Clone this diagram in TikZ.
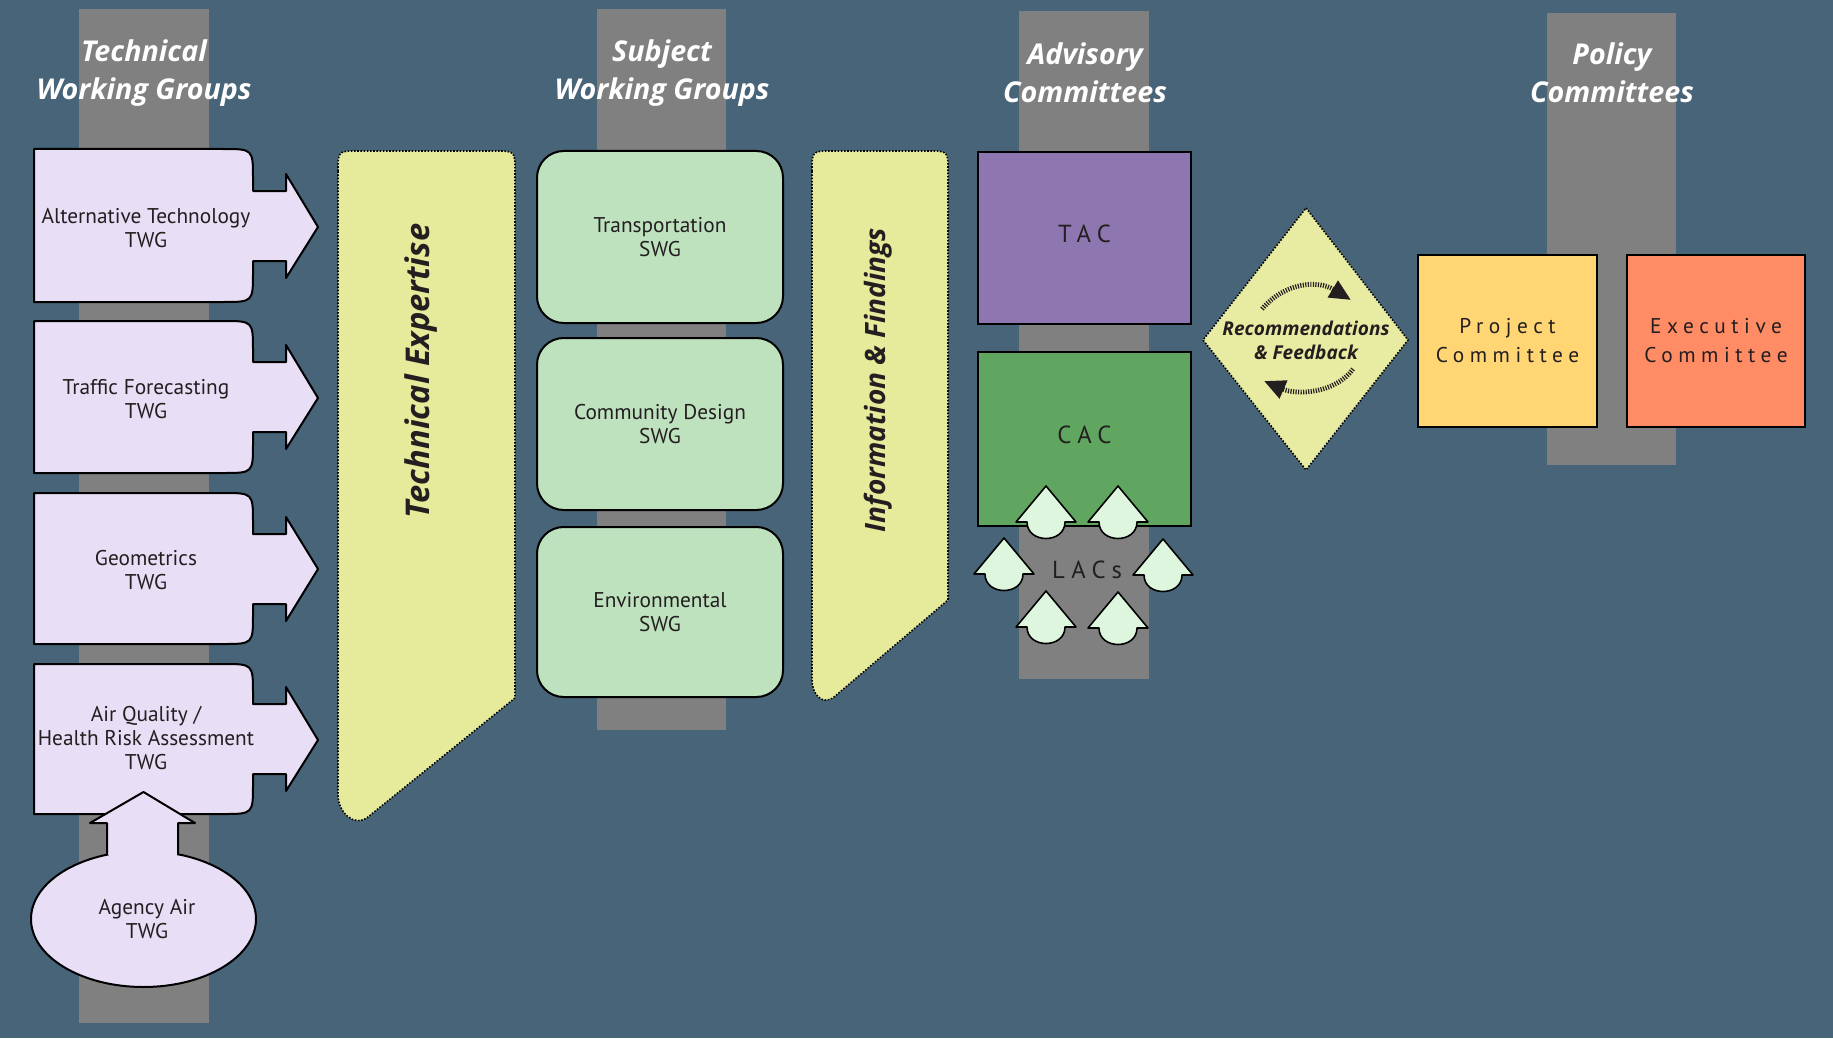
\documentclass[tikz,border=0pt]{standalone}
\usepackage{fontspec}
\setmainfont{PT Sans}
\newfontfamily\spacedfont[LetterSpace=26]{PT Sans}
\newfontfamily\headfont{Open Sans}
\usetikzlibrary{arrows.meta}

\definecolor{bgslate}{RGB}{72,100,120}
\definecolor{colgray}{RGB}{128,128,128}
\definecolor{twgfill}{RGB}{232,222,245}
\definecolor{bannerfill}{RGB}{230,234,155}
\definecolor{swgfill}{RGB}{190,226,190}
\definecolor{tacfill}{RGB}{142,118,176}
\definecolor{cacfill}{RGB}{96,166,96}
\definecolor{lacfill}{RGB}{222,245,222}
\definecolor{diamondfill}{RGB}{232,236,162}
\definecolor{projfill}{RGB}{255,214,115}
\definecolor{execfill}{RGB}{255,140,100}
\definecolor{textdark}{RGB}{35,31,32}

\tikzset{
  heading/.style={text=white, align=center, inner sep=0pt, font=\headfont\fontsize{21.5}{28.5}\selectfont\bfseries\itshape},
  twgbox/.style={fill=twgfill, draw=black, line width=1.5pt, line join=round},
  grouptext/.style={align=center, text=textdark, inner sep=0pt, font=\fontsize{16}{18}\selectfont},
  banner/.style={fill=bannerfill, draw=black, line width=1.2pt, dash pattern=on 1.2pt off 1.2pt},
  bannertext/.style={rotate=90, text=textdark, inner sep=0pt, font=\headfont\bfseries\itshape},
  swgbox/.style={fill=swgfill, draw=black, line width=1.5pt, rounded corners=20pt, minimum width=184.5pt, minimum height=129pt, align=center, inner sep=0pt, text=textdark, font=\fontsize{16}{18}\selectfont},
  committee/.style={draw=black, line width=1.5pt, minimum height=129pt, align=center, inner sep=0pt, text=textdark},
  lac/.style={fill=lacfill, draw=black, line width=1.2pt, line join=round},
  feedback/.style={fill=diamondfill, draw=black, line width=1.2pt, dash pattern=on 1.2pt off 1.2pt},
  cycleline/.style={draw=textdark, line width=3.6pt, dash pattern=on 0.9pt off 1pt, -{Triangle[length=16pt,width=14pt]}}
}

\begin{document}
\begin{tikzpicture}[x=0.75pt,y=0.75pt,yscale=-1,xscale=1]
    \useasboundingbox (0,0) rectangle (1833,1038);
    \fill[bgslate] (0,0) rectangle (1833,1038);

    %Columns
    \fill[colgray] (79,9) rectangle (209,1023);
    \fill[colgray] (597,9) rectangle (726,730);
    \fill[colgray] (1019,11) rectangle (1149,679);
    \fill[colgray] (1547,13) rectangle (1676,465);

    %Column headings
    \node[heading] (twghead) at (144,73) {Technical\\Working Groups};
    \node[heading] (swghead) at (662,73) {Subject\\Working Groups};
    \node[heading] (advhead) at (1085,73) {Advisory\\Committees};
    \node[heading] (polhead) at (1612,73) {Policy\\Committees};

    %TWG arrow boxes
    \draw[twgbox] (34,149) -- (223,149) .. controls (253,149) .. (253,179) -- (253,191) -- (286,191) -- (286,174) -- (318,227) -- (286,278) -- (286,261) -- (253,261) -- (253,272) .. controls (253,302) .. (223,302) -- (34,302) -- cycle;
    \draw[twgbox] (34,321) -- (223,321) .. controls (253,321) .. (253,351) -- (253,362) -- (286,362) -- (286,345) -- (318,398) -- (286,449) -- (286,432) -- (253,432) -- (253,443) .. controls (253,473) .. (223,473) -- (34,473) -- cycle;
    \draw[twgbox] (34,493) -- (223,493) .. controls (253,493) .. (253,523) -- (253,534) -- (286,534) -- (286,517) -- (318,569) -- (286,621) -- (286,604) -- (253,604) -- (253,614) .. controls (253,644) .. (223,644) -- (34,644) -- cycle;
    \draw[twgbox] (34,664) -- (223,664) .. controls (253,664) .. (253,694) -- (253,704) -- (286,704) -- (286,687) -- (318,740) -- (286,791) -- (286,774) -- (253,774) -- (253,784) .. controls (253,814) .. (223,814) -- (34,814) -- cycle;
    \node[grouptext] (alttech) at (146,228) {Alternative Technology\\TWG};
    \node[grouptext] (traffic) at (146,399) {Traffic Forecasting\\TWG};
    \node[grouptext] (geometrics) at (146,570) {Geometrics\\TWG};
    \node[grouptext] (airquality) at (146,738) {Air Quality /\\Health Risk Assessment\\TWG};

    %Agency Air ellipse with up arrow
    \draw[twgbox] (143.5,919) ellipse [x radius=112.5, y radius=68];
    \draw[twgbox] (107,855) -- (107,823) -- (90,823) -- (143.5,792) -- (195,823) -- (178,823) -- (178,855);
    \fill[twgfill] (108.5,845) rectangle (176.5,861);
    \node[grouptext] (agencyair) at (147,919) {Agency Air\\TWG};

    %Technical Expertise banner
    \draw[banner] (338,171) .. controls (338,151) .. (358,151) -- (495,151) .. controls (515,151) .. (515,171) -- (515,698) -- (368,817) .. controls (354,828) and (338,812) .. (338,795) -- cycle;
    \node[bannertext, font=\headfont\fontsize{24.5}{28}\selectfont\bfseries\itshape] (techexpertise) at (421,371) {Technical Expertise};

    %Subject working groups
    \node[swgbox] (transportation) at (660,237) {Transportation\\SWG};
    \node[swgbox] (community) at (660,424) {Community Design\\SWG};
    \node[swgbox, minimum height=127.5pt] (environmental) at (660,612) {Environmental\\SWG};

    %Information & Findings banner
    \draw[banner] (812,171) .. controls (812,151) .. (832,151) -- (928,151) .. controls (948,151) .. (948,171) -- (948,600) -- (834,697) .. controls (822,706) and (812,694) .. (812,680) -- cycle;
    \node[bannertext, font=\headfont\fontsize{21}{24}\selectfont\bfseries\itshape] (infofindings) at (878,380) {Information \& Findings};

    %Advisory committees
    \node[committee, fill=tacfill, minimum width=160pt, text height=13pt, text depth=7pt, font=\spacedfont\fontsize{18.5}{22}\selectfont] (tac) at (1084.5,238) {TAC};
    \node[committee, fill=cacfill, minimum width=160pt, minimum height=130.5pt, text height=13pt, text depth=7pt, font=\spacedfont\fontsize{18.5}{22}\selectfont] (cac) at (1084.5,439) {CAC};

    %LAC arrows
    \draw[lac, shift={(1046,522)}] (0,-36) -- (30,0) -- (19,0) .. controls (19,22) and (-19,22) .. (-19,0) -- (-30,0) -- cycle;
    \draw[lac, shift={(1118,522)}] (0,-36) -- (30,0) -- (19,0) .. controls (19,22) and (-19,22) .. (-19,0) -- (-30,0) -- cycle;
    \draw[lac, shift={(1004,574)}] (0,-36) -- (30,0) -- (19,0) .. controls (19,22) and (-19,22) .. (-19,0) -- (-30,0) -- cycle;
    \draw[lac, shift={(1163,575)}] (0,-36) -- (30,0) -- (19,0) .. controls (19,22) and (-19,22) .. (-19,0) -- (-30,0) -- cycle;
    \draw[lac, shift={(1046,627)}] (0,-36) -- (30,0) -- (19,0) .. controls (19,22) and (-19,22) .. (-19,0) -- (-30,0) -- cycle;
    \draw[lac, shift={(1118,628)}] (0,-36) -- (30,0) -- (19,0) .. controls (19,22) and (-19,22) .. (-19,0) -- (-30,0) -- cycle;
    \node[text=textdark, inner sep=0pt, font=\spacedfont\fontsize{18.5}{22}\selectfont] (lacs) at (1087,570) {LACs};

    %Recommendations & Feedback diamond
    \draw[feedback] (1306,208) -- (1408,340) -- (1306,470) -- (1203,340) -- cycle;
    \node[align=center, text=textdark, inner sep=0pt, font=\headfont\fontsize{14.3}{18}\selectfont\bfseries\itshape] (recfeedback) at (1306,340) {Recommendations\\\& Feedback};
    \coordinate (fbtopstart) at (1262,309);
    \coordinate (fbtopend) at (1351,300);
    \coordinate (fbbotstart) at (1353,369);
    \coordinate (fbbotend) at (1264,381);
    \draw[cycleline] (fbtopstart) .. controls (1285,282) and (1318,280) .. (fbtopend);
    \draw[cycleline] (fbbotstart) .. controls (1335,394) and (1296,395) .. (fbbotend);

    %Policy committees
    \node[committee, fill=projfill, minimum width=134pt, font=\spacedfont\fontsize{16}{21.75}\selectfont] (project) at (1507.5,341) {Project\\Committee};
    \node[committee, fill=execfill, minimum width=133.5pt, font=\spacedfont\fontsize{16}{21.75}\selectfont] (executive) at (1716,341) {Executive\\Committee};

\end{tikzpicture}
\end{document}
